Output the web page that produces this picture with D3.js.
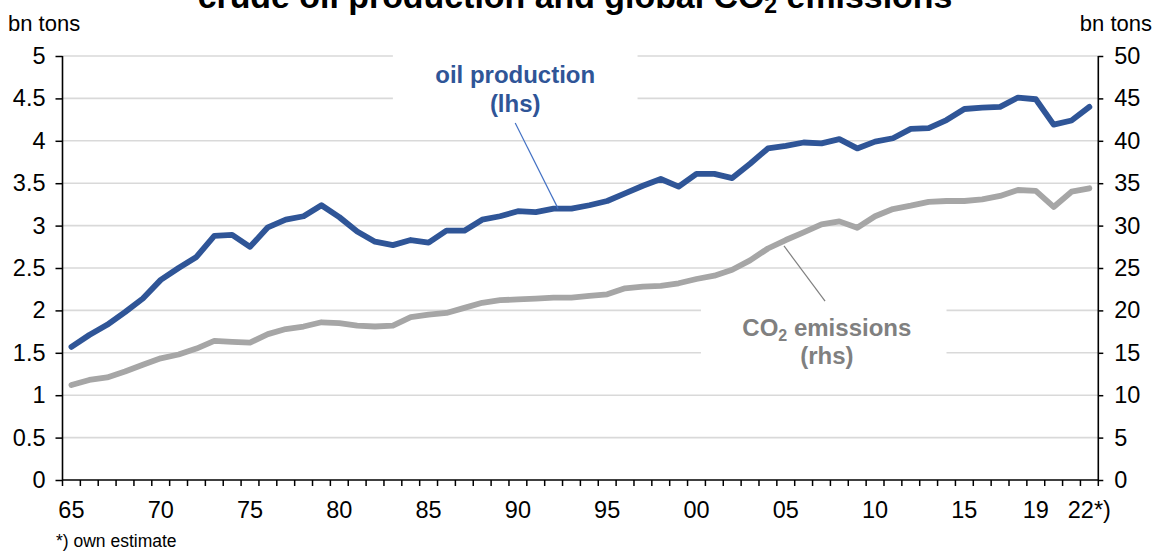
<!DOCTYPE html>
<html>
<head>
<meta charset="utf-8">
<script src="https://cdn.jsdelivr.net/npm/d3@7"></script>
<style>
  html, body { margin: 0; padding: 0; background: #fff; }
  svg { display: block; }
  text { font-family: "Liberation Sans", Arial, sans-serif; }
</style>
</head>
<body>
<svg id="chart" width="1158" height="551"></svg>
<script>
// ---- data ----
const years = d3.range(1965, 2023);
const oilProduction = [
  1.57, 1.71, 1.83, 1.98, 2.14, 2.36, 2.50, 2.63, 2.88, 2.89,
  2.75, 2.98, 3.07, 3.11, 3.24, 3.10, 2.93, 2.81, 2.77, 2.83,
  2.80, 2.94, 2.94, 3.07, 3.11, 3.17, 3.16, 3.20, 3.20, 3.24,
  3.29, 3.38, 3.47, 3.55, 3.46, 3.61, 3.61, 3.56, 3.73, 3.91,
  3.94, 3.98, 3.97, 4.02, 3.91, 3.99, 4.03, 4.14, 4.15, 4.245,
  4.375, 4.39, 4.40, 4.51, 4.49, 4.19, 4.24, 4.40
];
const co2Emissions = [
  11.2, 11.8, 12.1, 12.8, 13.6, 14.35, 14.8, 15.5, 16.4, 16.3,
  16.2, 17.2, 17.8, 18.1, 18.6, 18.5, 18.2, 18.1, 18.2, 19.2,
  19.5, 19.7, 20.3, 20.9, 21.2, 21.3, 21.4, 21.5, 21.5, 21.7,
  21.9, 22.6, 22.8, 22.9, 23.2, 23.7, 24.1, 24.8, 25.9, 27.3,
  28.3, 29.2, 30.15, 30.5, 29.75, 31.1, 31.95, 32.35, 32.8, 32.9,
  32.9, 33.1, 33.5, 34.2, 34.1, 32.2, 34.0, 34.4
];
const xTickYears = [1965, 1970, 1975, 1980, 1985, 1990, 1995, 2000, 2005, 2010, 2015, 2019, 2022];
const xTickLabels = ["65", "70", "75", "80", "85", "90", "95", "00", "05", "10", "15", "19", "22*)"];
const leftTicks = [0, 0.5, 1, 1.5, 2, 2.5, 3, 3.5, 4, 4.5, 5];
const leftTickLabels = ["0", "0.5", "1", "1.5", "2", "2.5", "3", "3.5", "4", "4.5", "5"];
const rightTicks = [0, 5, 10, 15, 20, 25, 30, 35, 40, 45, 50];

// ---- layout ----
const W = 1158, H = 551;
const M = { left: 62.5, right: W - 1098.3, top: 56, bottom: H - 480 };
const svg = d3.select("#chart");

const x = d3.scaleBand().domain(years).range([M.left, W - M.right]).padding(0);
const xc = d => x(d) + x.bandwidth() / 2;
// continuous year position (for annotations)
const xYear = d3.scaleLinear().domain([1965, 2022]).range([xc(1965), xc(2022)]);
const yL = d3.scaleLinear().domain([0, 5]).range([H - M.bottom, M.top]);
const yR = d3.scaleLinear().domain([0, 50]).range([H - M.bottom, M.top]);

const blue = "#2F5597", grey = "#A6A6A6";

// gridlines
svg.append("g").selectAll("line").data(leftTicks.slice(1)).join("line")
  .attr("x1", M.left).attr("x2", W - M.right)
  .attr("y1", d => yL(d)).attr("y2", d => yL(d))
  .attr("stroke", "#D9D9D9").attr("stroke-width", 1.6);

// label background boxes (mask gridlines)
const oilBox = { x0: 1983.0, x1: 1996.7, v0: 4.18, v1: 5.1 };
const co2Box = { x0: 2000.25, x1: 2014.0, v0: 11.0, v1: 21.5 };
svg.append("rect")
  .attr("x", xYear(oilBox.x0)).attr("width", xYear(oilBox.x1) - xYear(oilBox.x0))
  .attr("y", yL(oilBox.v1)).attr("height", yL(oilBox.v0) - yL(oilBox.v1))
  .attr("fill", "#fff");
svg.append("rect")
  .attr("x", xYear(co2Box.x0)).attr("width", xYear(co2Box.x1) - xYear(co2Box.x0))
  .attr("y", yR(co2Box.v1)).attr("height", yR(co2Box.v0) - yR(co2Box.v1))
  .attr("fill", "#fff");

// lines
const lineL = d3.line().x((d, i) => xc(years[i])).y(d => yL(d));
const lineR = d3.line().x((d, i) => xc(years[i])).y(d => yR(d));
svg.append("path").datum(co2Emissions).attr("d", lineR)
  .attr("fill", "none").attr("stroke", grey).attr("stroke-width", 5.8)
  .attr("stroke-linejoin", "round").attr("stroke-linecap", "round");
svg.append("path").datum(oilProduction).attr("d", lineL)
  .attr("fill", "none").attr("stroke", blue).attr("stroke-width", 5.8)
  .attr("stroke-linejoin", "round").attr("stroke-linecap", "round");

// axes
const axisFont = 23.5;
const gL = svg.append("g").attr("transform", `translate(${M.left},0)`)
  .call(d3.axisLeft(yL).tickValues(leftTicks).tickFormat((d, i) => leftTickLabels[i]).tickSize(7).tickPadding(10));
const gR = svg.append("g").attr("transform", `translate(${W - M.right},0)`)
  .call(d3.axisRight(yR).tickValues(rightTicks).tickSize(5).tickPadding(11));
const gX = svg.append("g").attr("transform", `translate(0,${H - M.bottom})`)
  .call(d3.axisBottom(x).tickValues([]).tickSize(0));
// x ticks at category boundaries
const boundaries = years.map(y => x(y)).concat([W - M.right]);
gX.selectAll("line.b").data(boundaries).join("line").attr("class", "b")
  .attr("x1", d => d).attr("x2", d => d).attr("y1", 0).attr("y2", 6)
  .attr("stroke", "#000").attr("stroke-width", 1.5);
gX.selectAll("text.xl").data(xTickYears).join("text").attr("class", "xl")
  .attr("x", d => xc(d)).attr("y", 38).attr("text-anchor", "middle")
  .attr("font-size", axisFont).attr("fill", "#000")
  .text((d, i) => xTickLabels[i]);

[gL, gR, gX].forEach(g => {
  g.selectAll(".domain").attr("stroke", "#000").attr("stroke-width", 1.6);
  g.selectAll(".tick line").attr("stroke", "#000").attr("stroke-width", 1.5);
  g.selectAll(".tick text").attr("font-size", axisFont).attr("fill", "#000")
    .attr("font-family", '"Liberation Sans", Arial, sans-serif');
});
gL.select(".domain").attr("d", `M0,${yL(5)}V${yL(0)}`);
gR.select(".domain").attr("d", `M0,${yR(50)}V${yR(0)}`);
gX.select(".domain").attr("d", `M${M.left},0H${W - M.right}`);

// unit labels
svg.append("text").attr("x", 8).attr("y", 31).attr("font-size", 22).text("bn tons");
svg.append("text").attr("x", 1152).attr("y", 31).attr("font-size", 22)
  .attr("text-anchor", "end").text("bn tons");

// footnote
svg.append("text").attr("x", 56).attr("y", 547).attr("font-size", 17.5).text("*) own estimate");

// title
const title = svg.append("text").attr("x", 575).attr("y", 8)
  .attr("text-anchor", "middle").attr("font-weight", 800)
  .attr("font-family", '"Open Sans", "Noto Sans", sans-serif')
  .attr("font-size", 28).attr("fill", "#000");
title.append("tspan").text("crude oil production and global CO");
title.append("tspan").attr("font-size", 19).attr("dy", 5).text("2");
title.append("tspan").attr("dy", -5).text(" emissions");
const tl = title.node().getComputedTextLength();
const fs = 28 * 755 / tl;
title.attr("font-size", fs);
title.select("tspan:nth-child(2)").attr("font-size", fs * 0.68);

// series labels
const oilLbl = svg.append("text").attr("text-anchor", "middle")
  .attr("font-weight", 700).attr("font-size", 24).attr("fill", blue);
oilLbl.append("tspan").attr("x", xYear(1989.85)).attr("y", yL(4.68)).text("oil production");
oilLbl.append("tspan").attr("x", xYear(1989.85)).attr("y", yL(4.34)).text("(lhs)");
svg.append("line")
  .attr("x1", xYear(1989.85)).attr("y1", yL(4.21))
  .attr("x2", xYear(1992.25)).attr("y2", yL(3.20))
  .attr("stroke", "#4472C4").attr("stroke-width", 1.2);

const co2Lbl = svg.append("text").attr("text-anchor", "middle")
  .attr("font-weight", 700).attr("font-size", 24).attr("fill", "#808080");
const t1 = co2Lbl.append("tspan").attr("x", xYear(2007.3)).attr("y", yR(16.95));
t1.append("tspan").text("CO");
t1.append("tspan").attr("font-size", 16).attr("dy", 5).text("2");
t1.append("tspan").attr("dy", -5).text(" emissions");
co2Lbl.append("tspan").attr("x", xYear(2007.3)).attr("y", yR(13.65)).text("(rhs)");
svg.append("line")
  .attr("x1", xYear(2004.9)).attr("y1", yR(27.6))
  .attr("x2", xYear(2007.2)).attr("y2", yR(21.1))
  .attr("stroke", "#808080").attr("stroke-width", 1.2);
</script>
</body>
</html>
